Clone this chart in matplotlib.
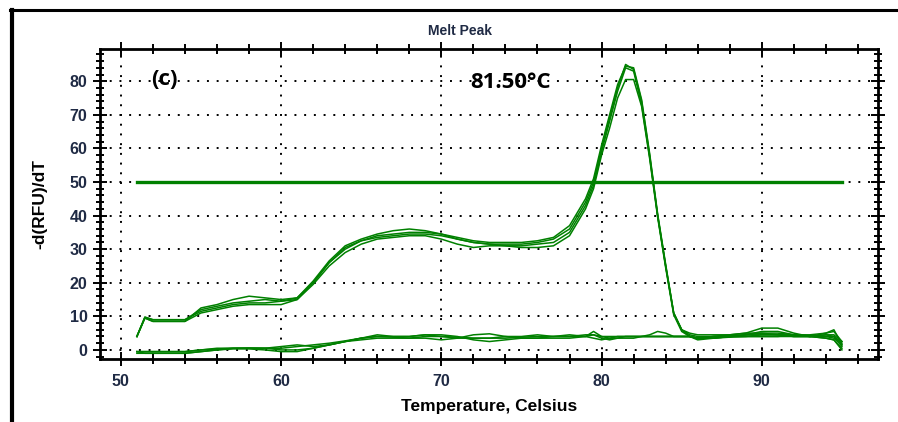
import matplotlib
matplotlib.use("Agg")
import matplotlib.pyplot as plt
from matplotlib.lines import Line2D
from matplotlib.ticker import MultipleLocator

plt.rcParams['font.family'] = ['Liberation Sans', 'DejaVu Sans']

# temperatures (Celsius) shared by every trace
temp = [51, 51.5, 52, 53, 54, 55, 56, 57, 58, 59, 60, 61, 62, 63, 64, 65, 66, 67, 68, 69,
        70, 71, 72, 73, 74, 75, 76, 77, 78, 79, 79.5, 80, 80.5, 81, 81.5, 82, 82.5, 83,
        83.5, 84, 84.5, 85, 85.5, 86, 87, 88, 89, 90, 91, 92, 93, 94, 94.5, 95]

# positive samples, -d(RFU)/dT
pos1 = [4, 9.7, 9, 9, 9, 11.5, 12.5, 13.5, 14, 14, 14.5, 15.5, 20, 26, 30, 32.5, 33.5, 34, 34.5, 34.5,
        34, 33, 32, 31.5, 31.5, 31.5, 32, 33, 36, 44, 50, 60, 69, 78, 85, 83.5, 74, 58,
        40, 25, 11, 6, 4.5, 4, 4, 4.2, 4.5, 4.5, 4.5, 4.5, 4.2, 4, 3.5, 1.5]
pos2 = [4, 9.5, 8.5, 8.5, 8.5, 12.5, 13.5, 15, 16, 15.5, 15, 15.5, 20.5, 26.5, 31, 33, 34.5, 35.5, 36, 35.5,
        34.5, 33, 32, 31.5, 31, 31, 31.5, 32, 35, 43, 49, 59, 68, 77, 84, 83, 73, 57.5,
        40, 25, 11, 6, 4, 3.5, 3.5, 4, 4.5, 5, 4.5, 4, 4, 4.5, 4, 2]
pos3 = [4, 9.5, 8.5, 8.5, 8.5, 11, 12, 13, 13.5, 13.5, 13.5, 15, 19.5, 25, 29, 31.5, 33, 33.5, 34, 34,
        33, 31.5, 30.5, 31, 31, 30.5, 30.5, 31, 34, 42, 48, 58, 66, 75, 80.5, 80.5, 72.5, 57,
        39.5, 24.5, 10.5, 5.5, 4, 3.5, 4, 4, 4, 4, 4, 4.5, 4, 3.5, 3, 0.5]
pos4 = [4, 9.8, 9, 9, 9, 12, 13, 14, 14.5, 15, 14.5, 15, 20, 26, 30.5, 32.5, 34, 34.5, 35, 35,
        34.5, 33.5, 32.5, 32, 32, 32, 32.5, 33.5, 37, 45, 51, 61, 70, 79, 84.5, 84, 74.5, 58.5,
        40.5, 25.5, 11, 6, 5, 4.5, 4.5, 4.5, 5, 5, 5, 4.5, 4.5, 5, 5.5, 2.5]

# negative samples (no amplification)
neg1 = [-0.5, -0.5, -0.5, -0.5, -0.5, 0, 0.3, 0.5, 0.6, 0.5, 0.5, 1, 1.5, 2, 2.7, 3.5, 4, 3.8, 3.5, 4,
        4, 3.8, 3.5, 3.5, 3.5, 3.8, 4, 4, 4, 4.5, 4.5, 4, 4, 4, 4, 4, 4, 4,
        4, 4, 4, 4, 4, 3.5, 3.5, 3.8, 4, 4.5, 4.5, 4, 4, 4.5, 4.5, 2.5]
neg2 = [-0.5, -1, -1, -1, -1, -0.5, 0, 0.3, 0.3, 0, -0.5, -0.5, 0.5, 1.5, 2.5, 3.5, 4, 4, 4, 4.5,
        4.5, 4, 3, 2.5, 3, 3.5, 3.5, 3.5, 3.5, 4, 5.5, 4, 3.5, 3.5, 3.5, 3.5, 4, 4.5,
        5.5, 5, 4, 4, 4, 3, 3.5, 4, 4.5, 5.5, 5.5, 4.5, 4, 5, 6, 1.5]
neg3 = [-0.5, -0.5, -0.5, -0.5, -0.5, 0, 0.5, 0.5, 0.5, 0.5, 1, 1.5, 1, 1.5, 2.5, 3, 3.5, 3.5, 3.5, 3.5,
        3, 3.5, 4.5, 4.8, 4, 3.5, 3.5, 4, 4.5, 4, 3.5, 3, 3.5, 4, 4, 4, 4, 4,
        4, 4, 4, 4, 4, 3.5, 4, 4.5, 5, 6.5, 6.5, 5, 4, 3.5, 3, 0]
neg4 = [-1, -1, -1, -1, -1, -0.5, 0, 0.5, 0.5, 0.5, 0, 0, 0.5, 1.5, 2.5, 3.5, 4.5, 4, 4, 4.5,
        4, 3.5, 3.5, 3.5, 4, 4, 4.5, 4, 4, 4, 4.5, 3.5, 3, 3.5, 4, 4, 4, 4,
        4, 4, 4, 4, 4, 3.5, 4, 4, 4, 4, 4, 4, 4, 4, 4, 1]

threshold_x = [51, 95]
threshold_y = [50, 50]

green = "#008000"
label_col = "#1f2a44"

fig = plt.figure(figsize=(8.98, 4.22), dpi=100)
ax = fig.add_axes([0.1114, 0.1493, 0.8663, 0.7346])

for s in [neg1, neg2, neg3, neg4, pos3, pos1, pos2, pos4]:
    ax.plot(temp, s, color=green, lw=1.1)
ax.plot(threshold_x, threshold_y, color=green, lw=2.4)

ax.set_xlim(48.7, 97.25)
ax.set_ylim(-2.7, 89.6)
ax.xaxis.set_major_locator(MultipleLocator(10))
ax.xaxis.set_minor_locator(MultipleLocator(2))
ax.yaxis.set_major_locator(MultipleLocator(10))
ax.yaxis.set_minor_locator(MultipleLocator(2))
ax.grid(True, which="major", color="black", lw=1.4, linestyle=(0, (1, 4)))

for sp in ax.spines.values():
    sp.set_linewidth(2)
ax.tick_params(which="both", top=True, right=True, width=1.4, colors="black",
               labelcolor=label_col, labelsize=11.5)
ax.tick_params(axis="x", which="major", direction="inout", length=10, pad=6)
ax.tick_params(axis="x", which="minor", direction="inout", length=7)
ax.tick_params(axis="y", which="major", direction="inout", length=10, pad=4)
ax.tick_params(axis="y", which="minor", direction="inout", length=6)
for lab in ax.get_xticklabels() + ax.get_yticklabels():
    lab.set_fontweight("bold")

ax.set_xlabel("Temperature, Celsius", fontweight="bold", fontsize=12.5, labelpad=7)
ax.set_ylabel("-d(RFU)/dT", fontweight="bold", fontsize=12.5, labelpad=16)
fig.text(460 / 898, 1 - 31 / 422, "Melt Peak", ha="center", va="center",
         fontweight="bold", fontsize=10, color=label_col)

ax.text(51.9, 80.5, "(c)", fontsize=16, fontweight="bold", family="Open Sans", va="center")
ax.text(71.8, 79.5, "81.50°C", fontsize=16, fontweight="bold", family="Open Sans", va="center")

# outer frame of the screenshot
fig.add_artist(Line2D([12 / 898, 12 / 898], [0, 1 - 10 / 422], color="black", lw=3,
                      transform=fig.transFigure))
fig.add_artist(Line2D([10 / 898, 1], [1 - 10 / 422, 1 - 10 / 422], color="black", lw=2.2,
                      transform=fig.transFigure))

fig.savefig("out.png", dpi=100)
